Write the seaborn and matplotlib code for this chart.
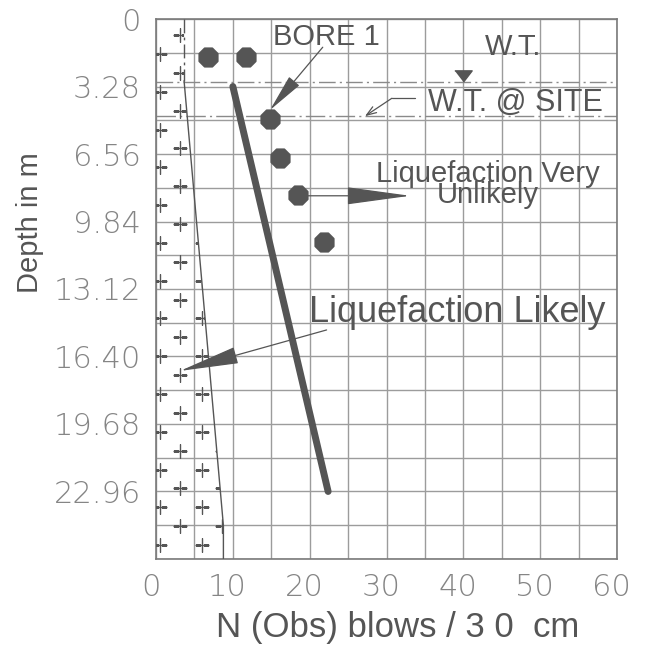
import matplotlib
matplotlib.use("Agg")
import matplotlib.pyplot as plt
import matplotlib.transforms as mtransforms
from matplotlib.patches import Polygon
from matplotlib.ticker import MultipleLocator
import numpy as np
import pandas as pd
import seaborn as sns

# observed SPT blow counts for bore 1
obs_n = [6.8, 11.7, 14.8, 16.1, 18.5, 21.8]
obs_depth = [1.86, 1.86, 4.87, 6.77, 8.55, 10.82]

# boundary between likely / very unlikely
trend_n = [10.0, 22.4]
trend_depth = [3.28, 22.96]

# left limit curve (hatched zone)
limit_n = [3.65, 3.65, 8.77, 8.77]
limit_depth = [0.0, 3.0, 24.62, 26.24]

wt_depth = 3.08
wt_site_depth = 4.72

depth_ticks = [0, 3.28, 6.56, 9.84, 13.12, 16.40, 19.68, 22.96]
depth_labels = ["0", "3.28", "6.56", "9.84", "13.12", "16.40", "19.68", "22.96"]
n_ticks = [0, 10, 20, 30, 40, 50, 60]

TXT = "#555555"
GRID = "#9c9c9c"

sns.set_style("white")
plt.rcParams["font.family"] = ["Liberation Sans", "DejaVu Sans"]

fig = plt.figure(figsize=(6.45, 6.49), dpi=100)
ax = fig.add_axes([0.2419, 0.1387, 0.7147, 0.832])

ax.set_xlim(0, 60)
ax.set_ylim(26.24, 0)
ax.xaxis.set_minor_locator(MultipleLocator(5))
ax.yaxis.set_minor_locator(MultipleLocator(1.64))
ax.set_xticks(n_ticks)
ax.set_yticks(depth_ticks)
ax.set_yticklabels(depth_labels)
ax.grid(True, which="both", color=GRID, lw=1.0)
ax.set_axisbelow(True)
ax.tick_params(which="both", length=0)
ax.tick_params(axis="x", pad=10)
ax.tick_params(axis="y", pad=11)
for s in ax.spines.values():
    s.set_color("#7a7a7a")
    s.set_linewidth(1.2)

for lab in ax.get_xticklabels() + ax.get_yticklabels():
    lab.set_fontfamily("DejaVu Sans")
    lab.set_fontweight("light")
    lab.set_fontsize(22)
    lab.set_color("#858585")
shift = mtransforms.ScaledTranslation(-0.055, 0, fig.dpi_scale_trans)
for lab in ax.get_xticklabels():
    lab.set_transform(lab.get_transform() + shift)

# hatched zone left of the limit curve
zone = Polygon(list(zip([0] + limit_n + [0], [0] + limit_depth + [26.24])),
               closed=True, facecolor="none", edgecolor="none")
ax.add_patch(zone)
hx, hy = [], []
for i, d in enumerate(np.arange(0.78, 26.24, 0.918)):
    cols = [3.13, 8.55] if i % 2 == 0 else [0.52, 5.95]
    for c in cols:
        hx.append(c)
        hy.append(d)
hatch = ax.scatter(hx, hy, marker="+", s=100, color="#555555", linewidths=1.0, zorder=3)
hatch.set_clip_path(zone)

# limit curve
ax.plot(limit_n[:2], limit_depth[:2], color="#555555", lw=1.0, ls=(0, (10, 3, 2, 3)), zorder=3)
ax.plot(limit_n[1:], limit_depth[1:], color="#555555", lw=1.0, zorder=3)

# water table lines
ax.axhline(wt_depth, color="#8a8a8a", lw=1.0, ls=(0, (12, 3, 1.5, 3)), zorder=2)
ax.axhline(wt_site_depth, color="#8a8a8a", lw=1.0, ls=(0, (14, 3, 1.5, 3)), zorder=2)

# trend line
trend = pd.DataFrame({"n": trend_n, "depth": trend_depth})
sns.lineplot(data=trend, x="n", y="depth", sort=False, color="#555555", lw=5,
             solid_capstyle="round", ax=ax, zorder=4)

# observed points
obs = pd.DataFrame({"n": obs_n, "depth": obs_depth})
sns.scatterplot(data=obs, x="n", y="depth", marker="8", s=210, color="#555555",
                edgecolor="#555555", ax=ax, zorder=5, legend=False)

ax.set_xlabel("N (Obs) blows / 3 0  cm", fontsize=25, color=TXT)
ax.xaxis.set_label_coords(0.525, -0.096)
ax.set_ylabel("Depth in m", fontsize=21, color=TXT)
ax.yaxis.set_label_coords(-0.243, 0.622)

# W.T. symbol
tri = [(-1, 0.65), (1, 0.65), (0, -0.65)]
ax.plot([40.0], [2.78], marker=tri, ms=12.5, color="#555555", zorder=5)
ax.text(46.5, 1.75, "W.T.", fontsize=21, color=TXT, ha="center", va="baseline")

# annotations
ax.text(22.2, 1.26, "BORE 1", fontsize=21, color=TXT, ha="center", va="baseline")
ax.annotate("", xy=(14.84, 4.42), xytext=(21.7, 1.37),
            arrowprops=dict(arrowstyle="-|>,head_length=2.4,head_width=0.42",
                            mutation_scale=10, color="#555555", lw=0.9,
                            shrinkA=0, shrinkB=0), zorder=6)

ax.text(46.8, 4.46, "W.T. @ SITE", fontsize=22, color=TXT, ha="center", va="baseline")
ax.plot([33.7, 30.7], [3.85, 3.85], color="#555555", lw=0.9)
ax.annotate("", xy=(27.2, 4.72), xytext=(30.7, 3.85),
            arrowprops=dict(arrowstyle="->,head_length=0.7,head_width=0.25",
                            mutation_scale=10, color="#555555", lw=0.9,
                            shrinkA=0, shrinkB=0))

ax.text(43.2, 8.96, "Liquefaction Very\nUnlikely", fontsize=21, color=TXT,
        ha="center", va="baseline", multialignment="center", linespacing=0.72)
ax.annotate("", xy=(33.07, 8.59), xytext=(18.5, 8.59),
            arrowprops=dict(arrowstyle="-|>,head_length=4.1,head_width=0.56",
                            mutation_scale=10, color="#555555", lw=0.9,
                            shrinkA=0, shrinkB=0), zorder=6)

ax.text(39.26, 14.71, "Liquefaction Likely", fontsize=26, color=TXT, ha="center", va="baseline")
ax.annotate("", xy=(3.13, 17.1), xytext=(22.2, 15.11),
            arrowprops=dict(arrowstyle="-|>,head_length=3.8,head_width=0.54",
                            mutation_scale=10, color="#555555", lw=0.9,
                            shrinkA=0, shrinkB=0), zorder=6)

fig.savefig("out.png", dpi=100)
plt.close(fig)
